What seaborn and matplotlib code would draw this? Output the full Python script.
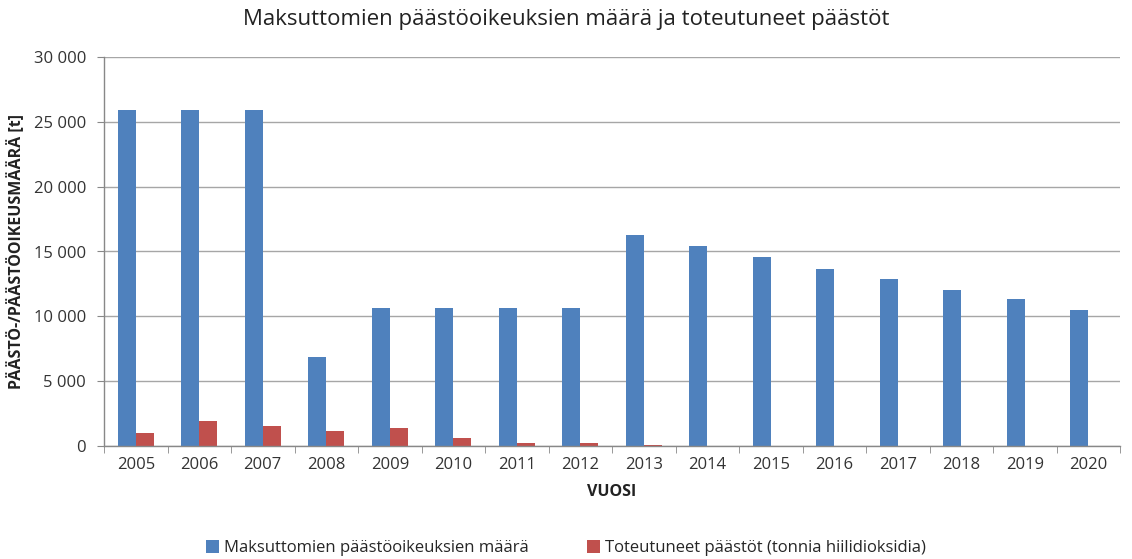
import matplotlib
matplotlib.use("Agg")
import matplotlib.pyplot as plt
import seaborn as sns
import pandas as pd
import numpy as np

years = [str(y) for y in range(2005, 2021)]
free_allowances = [25900, 25900, 25900, 6900, 10650, 10650, 10650, 10650,
                   16300, 15400, 14550, 13650, 12900, 12050, 11300, 10450]
emissions = [1000, 1900, 1580, 1140, 1350, 580, 230, 230,
             100, 0, 0, 0, 0, 0, 0, 0]
series_names = ["Maksuttomien päästöoikeuksien määrä",
                "Toteutuneet päästöt (tonnia hiilidioksidia)"]
y_ticks = [0, 5000, 10000, 15000, 20000, 25000, 30000]

df = pd.DataFrame({
    "Vuosi": years * 2,
    "Arvo": free_allowances + emissions,
    "Sarja": [series_names[0]] * len(years) + [series_names[1]] * len(years),
})

sns.set_style("white")
plt.rcParams["font.family"] = ["Open Sans", "DejaVu Sans"]

fig = plt.figure(figsize=(11.32, 5.59), dpi=100)
ax = fig.add_axes([104 / 1132, 1 - 446 / 559, (1120 - 104) / 1132, (446 - 57) / 559])

sns.barplot(data=df, x="Vuosi", y="Arvo", hue="Sarja", hue_order=series_names,
            palette=["#4F81BD", "#C0504D"], width=0.56, gap=0, saturation=1,
            linewidth=0, ax=ax, legend=True)

ax.set_ylim(0, 30000)
ax.set_xlim(-0.5, len(years) - 0.5)
ax.set_yticks(y_ticks)
ax.set_yticklabels([f"{v:,}".replace(",", " ") for v in y_ticks], fontsize=12, color="#333333")
ax.set_xticks(range(len(years)))
ax.set_xticklabels(years, fontsize=12, color="#333333")
ax.tick_params(axis="x", length=0, pad=8)
ax.tick_params(axis="y", length=5, color="#888888", direction="out", left=True, pad=8)
ax.set_xticks(np.arange(-0.5, len(years), 1.0), minor=True)
ax.tick_params(axis="x", which="minor", length=5, color="#888888", direction="out", bottom=True)

ax.yaxis.grid(True, color="#A6A6A6", linewidth=1)
ax.set_axisbelow(True)
for s in ["top", "right"]:
    ax.spines[s].set_visible(False)
for s in ["left", "bottom"]:
    ax.spines[s].set_color("#888888")
    ax.spines[s].set_linewidth(1)

ax.set_xlabel("VUOSI", fontsize=11.5, fontweight="bold", color="#222222", labelpad=8)
ax.set_ylabel("PÄÄSTÖ-/PÄÄSTÖOIKEUSMÄÄRÄ [t]", fontsize=11.5, fontweight="bold",
              color="#222222", labelpad=6)
fig.text(0.5, 1 - 20 / 559, "Maksuttomien päästöoikeuksien määrä ja toteutuneet päästöt",
         ha="center", va="center", fontsize=16, color="#222222")

handles, labels = ax.get_legend_handles_labels()
ax.legend_.remove()
fig.legend(handles, labels, loc="center", bbox_to_anchor=(0.5, 1 - 548 / 559),
           ncol=2, frameon=False, fontsize=12, handlelength=0.8, handleheight=0.8,
           columnspacing=3.5, handletextpad=0.3)

fig.savefig("out.png", dpi=100)
